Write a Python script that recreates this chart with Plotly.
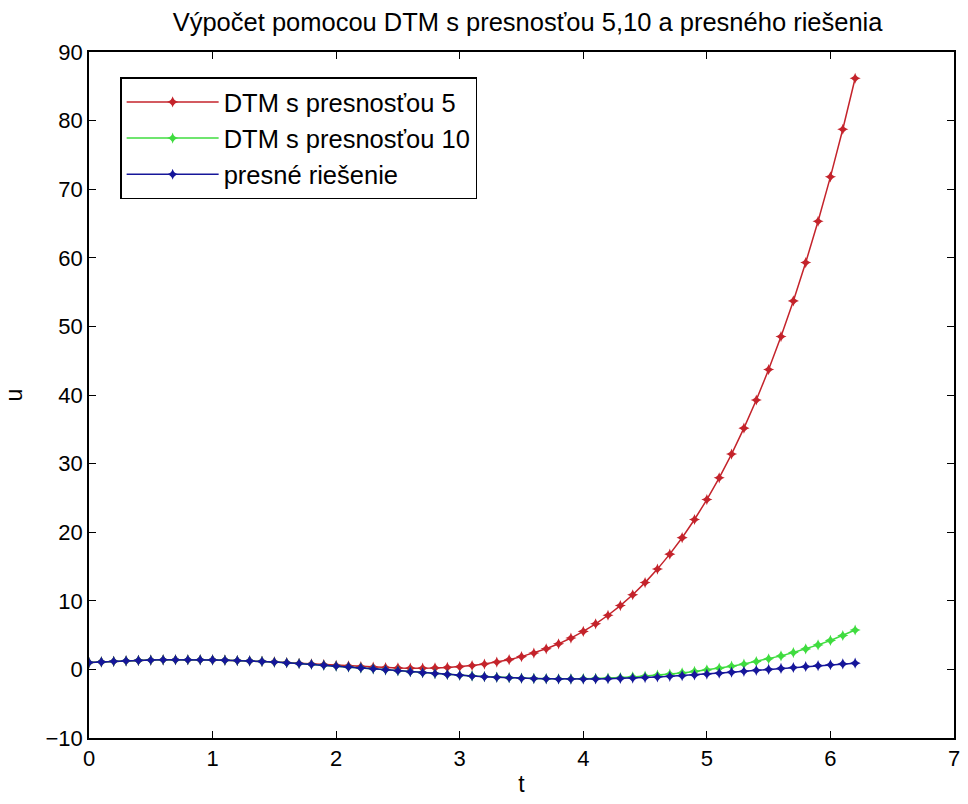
import plotly.graph_objects as go

# time grid t = 0, 0.1, ..., 6.2
t = [round(0.1 * i, 1) for i in range(63)]

# DTM approximation with 5 terms
u_dtm5 = [1.00, 1.09, 1.18, 1.25, 1.31, 1.36, 1.39, 1.41, 1.41, 1.41,
          1.38, 1.35, 1.30, 1.24, 1.17, 1.09, 1.00, 0.90, 0.80, 0.70,
          0.60, 0.50, 0.41, 0.33, 0.26, 0.21, 0.18, 0.18, 0.22, 0.29,
          0.40, 0.56, 0.78, 1.07, 1.42, 1.86, 2.38, 3.00, 3.73, 4.57,
          5.53, 6.64, 7.89, 9.30, 10.88, 12.65, 14.62, 16.80, 19.20, 21.85,
          24.75, 27.93, 31.39, 35.17, 39.27, 43.71, 48.52, 53.71, 59.31, 65.33,
          71.80, 78.74, 86.17]

# DTM approximation with 10 terms
u_dtm10 = [1.00, 1.09, 1.18, 1.25, 1.31, 1.36, 1.39, 1.41, 1.41, 1.40,
           1.38, 1.34, 1.29, 1.23, 1.16, 1.07, 0.97, 0.86, 0.75, 0.62,
           0.49, 0.36, 0.22, 0.08, -0.06, -0.20, -0.34, -0.48, -0.61, -0.73,
           -0.85, -0.95, -1.05, -1.14, -1.21, -1.27, -1.32, -1.35, -1.37, -1.37,
           -1.35, -1.31, -1.26, -1.19, -1.09, -0.98, -0.84, -0.69, -0.51, -0.30,
           -0.07, 0.18, 0.47, 0.79, 1.15, 1.54, 1.97, 2.45, 2.99, 3.57,
           4.22, 4.94, 5.74]

# exact solution
u_exact = [1.00, 1.09, 1.18, 1.25, 1.31, 1.36, 1.39, 1.41, 1.41, 1.40,
           1.38, 1.34, 1.29, 1.23, 1.16, 1.07, 0.97, 0.86, 0.75, 0.62,
           0.49, 0.36, 0.22, 0.08, -0.06, -0.20, -0.34, -0.48, -0.61, -0.73,
           -0.85, -0.96, -1.06, -1.15, -1.22, -1.29, -1.34, -1.38, -1.40, -1.41,
           -1.41, -1.39, -1.36, -1.32, -1.26, -1.19, -1.11, -1.01, -0.91, -0.80,
           -0.68, -0.55, -0.41, -0.28, -0.14, 0.00, 0.14, 0.28, 0.42, 0.55,
           0.68, 0.80, 0.91]

series = [
    ("DTM s presnosťou 5", u_dtm5, "#c4232b"),
    ("DTM s presnosťou 10", u_dtm10, "#3fdc3f"),
    ("presné riešenie", u_exact, "#16169a"),
]

fig = go.Figure()
for name, vals, col in series:
    fig.add_trace(go.Scatter(
        x=t, y=vals, name=name, mode="lines+markers",
        line=dict(color=col, width=1.5),
        marker=dict(symbol="star-diamond", size=8, color=col),
    ))

font_family = "Liberation Sans, Arial, sans-serif"

axis_common = dict(
    showgrid=False, zeroline=False,
    showline=True, linecolor="black", linewidth=1.5, mirror="ticks",
    ticks="inside", ticklen=7, tickwidth=1.2, tickcolor="black",
    tickfont=dict(family=font_family, size=22, color="black"),
)

fig.update_layout(
    width=968, height=804,
    margin=dict(l=89, r=8, t=52, b=66),
    paper_bgcolor="white", plot_bgcolor="white",
    title=dict(
        text="Výpočet pomocou DTM s presnosťou 5,10 a presného riešenia",
        x=0.545, xanchor="center", y=0.972, yanchor="middle",
        font=dict(family=font_family, size=25.5, color="black"),
    ),
    xaxis=dict(range=[0, 7], tickmode="linear", tick0=0, dtick=1,
               title=dict(text="t", standoff=6,
                          font=dict(family=font_family, size=23, color="black")),
               **axis_common),
    yaxis=dict(range=[-10, 90], tickmode="linear", tick0=-10, dtick=10,
               title=dict(text="u", standoff=16,
                          font=dict(family=font_family, size=23, color="black")),
               **axis_common),
    legend=dict(
        x=0.036, y=0.963, xanchor="left", yanchor="top",
        bgcolor="white", bordercolor="black", borderwidth=1.5,
        font=dict(family=font_family, size=25.5, color="black"),
        itemwidth=92, tracegroupgap=0,
    ),
    showlegend=True,
)

fig.write_html("out.html")
